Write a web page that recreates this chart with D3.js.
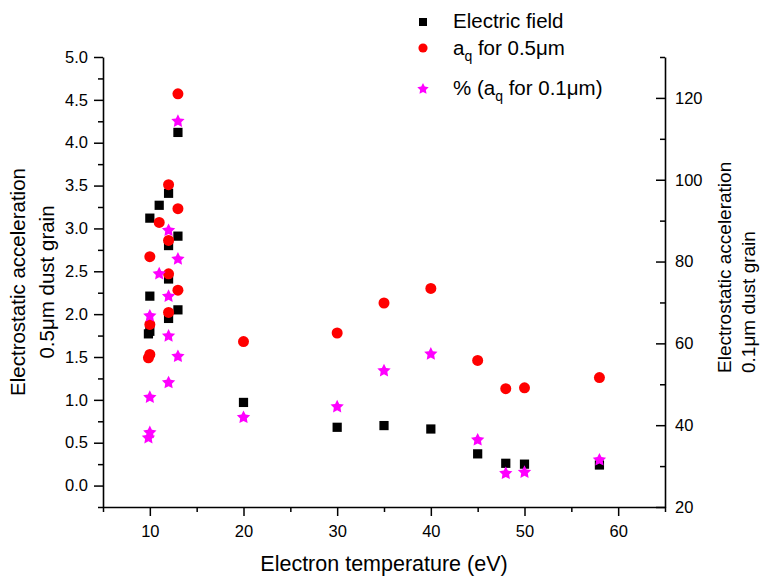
<!DOCTYPE html>
<html>
<head>
<meta charset="utf-8">
<script src="https://cdn.jsdelivr.net/npm/d3@7"></script>
<style>
  html, body { margin: 0; padding: 0; background: #fff; }
  svg text { font-family: "Liberation Sans", Arial, sans-serif; fill: #000; }
</style>
</head>
<body>
<svg id="chart" width="760" height="579"></svg>
<script>
// Electron temperature (eV) for each series
const fieldTemp = [9.85, 10, 10, 10, 11, 12, 12, 12, 12, 13, 13, 13, 20, 30, 35, 40, 45, 48, 50, 58];
const fieldValue = [1.77, 1.80, 2.21, 3.12, 3.27, 3.41, 2.80, 2.41, 1.95, 4.12, 2.91, 2.05, 0.97, 0.68, 0.70, 0.66, 0.37, 0.26, 0.25, 0.24];

const accel05Temp = [13, 12, 13, 11, 12, 10, 12, 13, 12, 10, 10, 9.85, 20, 30, 35, 40, 45, 48, 50, 58];
const accel05Value = [4.57, 3.51, 3.23, 3.07, 2.86, 2.67, 2.47, 2.28, 2.02, 1.88, 1.53, 1.49, 1.68, 1.78, 2.13, 2.30, 1.46, 1.13, 1.14, 1.26];

const accel01Temp = [13, 12, 13, 11, 12, 10, 12, 13, 12, 10, 10, 9.85, 20, 30, 35, 40, 45, 48, 50, 58];
const accel01Value = [114.3, 87.6, 80.6, 77.0, 71.5, 66.7, 61.8, 56.8, 50.4, 46.8, 38.2, 36.9, 41.9, 44.5, 53.3, 57.4, 36.4, 28.2, 28.5, 31.5];

// Tick values
const xTicks = [10, 20, 30, 40, 50, 60];
const xMinorTicks = [5, 15, 25, 35, 45, 55, 65];
const yLeftTicks = [0.0, 0.5, 1.0, 1.5, 2.0, 2.5, 3.0, 3.5, 4.0, 4.5, 5.0];
const yLeftMinorTicks = [-0.25, 0.25, 0.75, 1.25, 1.75, 2.25, 2.75, 3.25, 3.75, 4.25, 4.75];
const yRightTicks = [20, 40, 60, 80, 100, 120];
const yRightMinorTicks = [30, 50, 70, 90, 110, 130];

const svg = d3.select("#chart");
const plot = { left: 103, right: 665, top: 57, bottom: 507 };

const x = d3.scaleLinear().domain([5, 65]).range([plot.left, plot.right]);
const yL = d3.scaleLinear().domain([-0.25, 5.0]).range([plot.bottom, plot.top]);
const yR = d3.scaleLinear().domain([20, 130]).range([plot.bottom, plot.top]);

const tickFont = "16.5px";
const major = 9, minor = 5;

function styleAxis(g) {
  g.select(".domain").attr("stroke", "#000").attr("stroke-width", 1.6);
  g.selectAll(".tick line").attr("stroke", "#000").attr("stroke-width", 1.5);
  g.selectAll(".tick text").style("font-size", tickFont).attr("fill", "#000");
}

// Bottom axis
const gx = svg.append("g").attr("transform", `translate(0,${plot.bottom})`)
  .call(d3.axisBottom(x).tickValues(xTicks).tickFormat(d3.format("d")).tickSizeInner(major).tickSizeOuter(0).tickPadding(9))
  .call(styleAxis);
gx.selectAll(".tick text").attr("dy", "0.71em");
svg.append("g").attr("transform", `translate(0,${plot.bottom})`)
  .call(d3.axisBottom(x).tickValues(xMinorTicks).tickFormat("").tickSizeInner(minor).tickSizeOuter(0))
  .call(styleAxis).select(".domain").remove();

// Left axis
svg.append("g").attr("transform", `translate(${plot.left},0)`)
  .call(d3.axisLeft(yL).tickValues(yLeftTicks).tickFormat(d3.format(".1f")).tickSizeInner(major).tickSizeOuter(0).tickPadding(6))
  .call(styleAxis);
svg.append("g").attr("transform", `translate(${plot.left},0)`)
  .call(d3.axisLeft(yL).tickValues(yLeftMinorTicks).tickFormat("").tickSizeInner(minor).tickSizeOuter(0))
  .call(styleAxis).select(".domain").remove();

// Right axis: ticks point inward, labels outside
const gr = svg.append("g").attr("transform", `translate(${plot.right},0)`)
  .call(d3.axisRight(yR).tickValues(yRightTicks).tickFormat(d3.format("d")).tickSizeInner(-major).tickSizeOuter(0).tickPadding(10))
  .call(styleAxis);
gr.selectAll(".tick text").attr("x", 10);
svg.append("g").attr("transform", `translate(${plot.right},0)`)
  .call(d3.axisRight(yR).tickValues(yRightMinorTicks).tickFormat("").tickSizeInner(-minor).tickSizeOuter(0))
  .call(styleAxis).select(".domain").remove();

// Axis titles
svg.append("text")
  .attr("x", (plot.left + plot.right) / 2).attr("y", 571)
  .attr("text-anchor", "middle").style("font-size", "21.5px")
  .text("Electron temperature (eV)");

const leftTitle = svg.append("text")
  .attr("transform", `translate(0,${(plot.top + plot.bottom) / 2}) rotate(-90)`)
  .attr("text-anchor", "middle").style("font-size", "20.5px");
leftTitle.append("tspan").attr("x", 0).attr("y", 25).text("Electrostatic acceleration");
leftTitle.append("tspan").attr("x", 0).attr("y", 54).text("0.5μm dust grain");

const rightTitle = svg.append("text")
  .attr("transform", `translate(0,373) rotate(-90)`)
  .attr("text-anchor", "start").style("font-size", "19px");
rightTitle.append("tspan").attr("x", 0).attr("y", 731).text("Electrostatic acceleration");
rightTitle.append("tspan").attr("x", 0).attr("y", 755).text("0.1μm dust grain");

// Five-point star with broad arms; size is the outer radius
const fatStar = {
  draw(context, r) {
    const inner = r * 0.5;
    for (let i = 0; i < 10; i++) {
      const a = -Math.PI / 2 + i * Math.PI / 5;
      const rr = i % 2 === 0 ? r : inner;
      const px = rr * Math.cos(a), py = rr * Math.sin(a);
      if (i === 0) context.moveTo(px, py); else context.lineTo(px, py);
    }
    context.closePath();
  }
};

// Marker shapes
const squareSym = d3.symbol().type(d3.symbolSquare).size(85);
const circleSym = d3.symbol().type(d3.symbolCircle).size(95);
const starSym = d3.symbol().type(fatStar).size(7);

const field = fieldTemp.map((t, i) => ({ t, v: fieldValue[i] }));
const accel05 = accel05Temp.map((t, i) => ({ t, v: accel05Value[i] }));
const accel01 = accel01Temp.map((t, i) => ({ t, v: accel01Value[i] }));

svg.append("g").selectAll("path").data(field).join("path")
  .attr("d", squareSym)
  .attr("transform", d => `translate(${x(d.t)},${yL(d.v)})`)
  .attr("fill", "#000");

svg.append("g").selectAll("path").data(accel05).join("path")
  .attr("d", circleSym)
  .attr("transform", d => `translate(${x(d.t)},${yL(d.v)})`)
  .attr("fill", "#ff0000");

svg.append("g").selectAll("path").data(accel01).join("path")
  .attr("d", starSym)
  .attr("transform", d => `translate(${x(d.t)},${yR(d.v)})`)
  .attr("fill", "#ff00ff");

// Legend
const legend = svg.append("g");
const legendFont = "20.5px";
legend.append("path").attr("d", d3.symbol().type(d3.symbolSquare).size(64))
  .attr("transform", "translate(423,22)").attr("fill", "#000");
legend.append("text").attr("x", 453).attr("y", 28).style("font-size", legendFont).text("Electric field");

legend.append("path").attr("d", d3.symbol().type(d3.symbolCircle).size(66))
  .attr("transform", "translate(423,48)").attr("fill", "#ff0000");
const l2 = legend.append("text").attr("x", 453).attr("y", 55).style("font-size", legendFont);
l2.append("tspan").text("a");
l2.append("tspan").attr("dy", 6).style("font-size", "14px").text("q");
l2.append("tspan").attr("dy", -6).text(" for 0.5μm");

legend.append("path").attr("d", d3.symbol().type(fatStar).size(6))
  .attr("transform", "translate(423,89)").attr("fill", "#ff00ff");
const l3 = legend.append("text").attr("x", 453).attr("y", 95).style("font-size", legendFont);
l3.append("tspan").text("% (a");
l3.append("tspan").attr("dy", 6).style("font-size", "14px").text("q");
l3.append("tspan").attr("dy", -6).text(" for 0.1μm)");
</script>
</body>
</html>
